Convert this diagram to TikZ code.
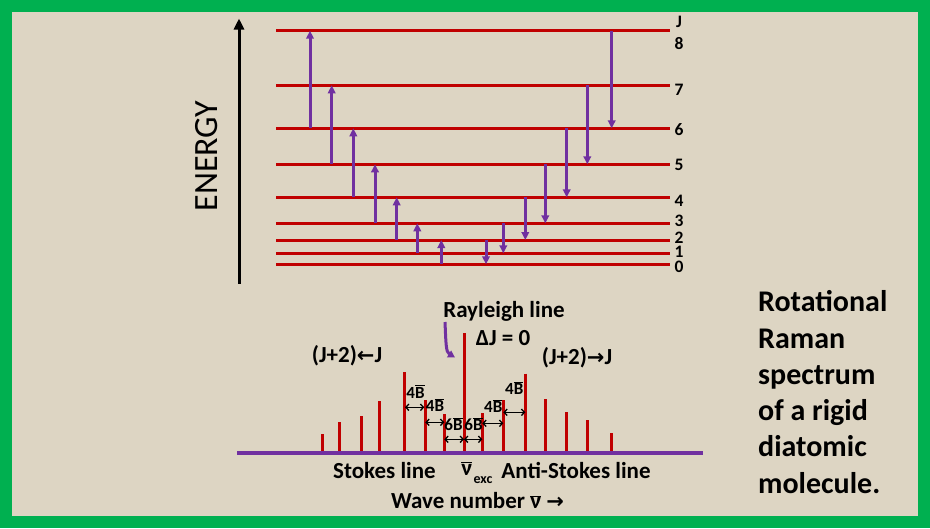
\documentclass[tikz,border=0pt]{standalone}
\usepackage{fontspec}
\setmainfont{Carlito}
\newfontfamily\arrowfont{DejaVu Sans}
\usetikzlibrary{arrows.meta}
\definecolor{framegreen}{RGB}{0,176,80}
\definecolor{paper}{RGB}{221,213,195}
\definecolor{lvlred}{RGB}{192,0,0}
\definecolor{trpurple}{RGB}{112,48,160}
\newcommand\ovl[1]{\ensuremath{\overline{\mbox{#1}}}}
\newcommand\fs[1]{\fontsize{#1}{#1}\selectfont}
\tikzset{
  level/.style={lvlred,line width=3pt},
  trans/.style={trpurple,line width=3pt,-{Triangle[length=8pt,width=7.5pt]}},
  specline/.style={lvlred,line width=3pt},
  gap/.style={black,line width=1.3pt,{Straight Barb[length=3pt,width=6.5pt]}-{Straight Barb[length=3pt,width=6.5pt]}},
  lvllabel/.style={font=\bfseries\fs{17.5},inner sep=0pt,anchor=base},
  smalllabel/.style={font=\bfseries\fs{17},inner sep=0pt},
  label/.style={font=\bfseries\fs{23},inner sep=0pt},
  title/.style={font=\bfseries\fs{30},inner sep=0pt,anchor=base west}
}
\begin{document}
\begin{tikzpicture}[x=1pt,y=-1pt]
\fill[framegreen] (0,0) rectangle (930,528);
\fill[paper] (12,12) rectangle (918,516);
\useasboundingbox (0,0) rectangle (930,528);

% energy axis
\draw[line width=3pt,-{Triangle[length=11pt,width=10pt]}] (239,283.5) -- (239,18.5);
\node[font=\fs{34},rotate=90,inner sep=0pt] (energy) at (206.5,156) {ENERGY};

% levels
\foreach \y in {264.3,253.3,240,223.3,197.3,164.3,128.3,85.3,30.7}
  \draw[level] (276,\y) -- (670,\y);
\node[lvllabel] (lJ) at (679,27) {J};
\foreach \j/\y in {8/49.4,7/95,6/135.4,5/170.4,4/206,3/226.4,2/243.4,1/257,0/272.4}
  \node[lvllabel] (l\j) at (679,\y) {\j};

% Stokes transitions (up)
\foreach \x/\a/\b in {310/128.3/30.7,331.7/164.3/85.3,353.3/197.3/128.3,375/223.3/164.3,396.7/240/197.3,417.3/253.3/223.3,441.3/264.3/240}
  \draw[trans] (\x,\a) -- (\x,\b);
% anti-Stokes transitions (down)
\foreach \x/\a/\b in {486/240/264.3,503.3/223.3/253.3,525.3/197.3/240,545.3/164.3/223.3,566.7/128.3/197.3,587.3/85.3/164.3,611.7/30.7/128.3}
  \draw[trans] (\x,\a) -- (\x,\b);

% spectrum lines
\foreach \x/\t in {322.3/434.3,339.3/422.3,361.3/416.3,379.3/401.3,404.3/372.3,425.3/400,444.3/414.3,464/333.3,482.3/413.3,503.3/400,525.3/373.5,545.3/399.3,566/412.3,587.3/420,611/433.3}
  \draw[specline] (\x,\t) -- (\x,453);
\draw[trpurple,line width=4pt] (237,453) -- (703,453);

% spacing arrows
\draw[gap] (405,407.3) -- (424.3,407.3);
\draw[gap] (425.3,422.3) -- (444.3,422.3);
\draw[gap] (444.3,439.3) -- (464,439.3);
\draw[gap] (464,439.3) -- (482.3,439.3);
\draw[gap] (482.3,423.3) -- (503.3,423.3);
\draw[gap] (503.3,412.3) -- (525.3,412.3);
\node[smalllabel] (g1) at (415.5,391.5) {4\ovl{B}};
\node[smalllabel] (g2) at (435,405) {4\ovl{B}};
\node[smalllabel] (g3) at (453.5,424.3) {6\ovl{B}};
\node[smalllabel] (g4) at (473.5,424.3) {6\ovl{B}};
\node[smalllabel] (g5) at (493.3,406) {4\ovl{B}};
\node[smalllabel] (g6) at (514.3,388.3) {4\ovl{B}};

% Rayleigh
\node[label] (ray) at (504,311) {Rayleigh line};
\node[label] (dj) at (503,338) {ΔJ = 0};
\draw[trpurple,line width=3pt,-{Triangle[length=7pt,width=7.5pt]}] (445,322) .. controls (446,345) and (446,352) .. (455,357.5);

\node[label] (stk) at (347,356) {(J+2){\arrowfont\bfseries\fs{21}←}J};
\node[label] (astk) at (577,358) {(J+2){\arrowfont\bfseries\fs{21}→}J};

\node[label] (sl) at (384.5,470.7) {Stokes line};
\node[label] (nu) at (466.7,468.5) {\ovl{ν}};
\node[font=\bfseries\fs{14},inner sep=0pt] (exc) at (483,480.5) {exc};
\node[label] (asl) at (576,470.7) {Anti-Stokes line};
\node[label] (wn) at (477.5,501) {Wave number \ovl{ν} {\arrowfont\bfseries\fs{21}→}};

% title
\node[title] (t1) at (758,311.7) {Rotational};
\node[title] (t2) at (758,348) {Raman};
\node[title] (t3) at (758,384.3) {spectrum};
\node[title] (t4) at (758,420.6) {of a rigid};
\node[title] (t5) at (758,456.9) {diatomic};
\node[title] (t6) at (758,493.2) {molecule.};
\end{tikzpicture}
\end{document}
